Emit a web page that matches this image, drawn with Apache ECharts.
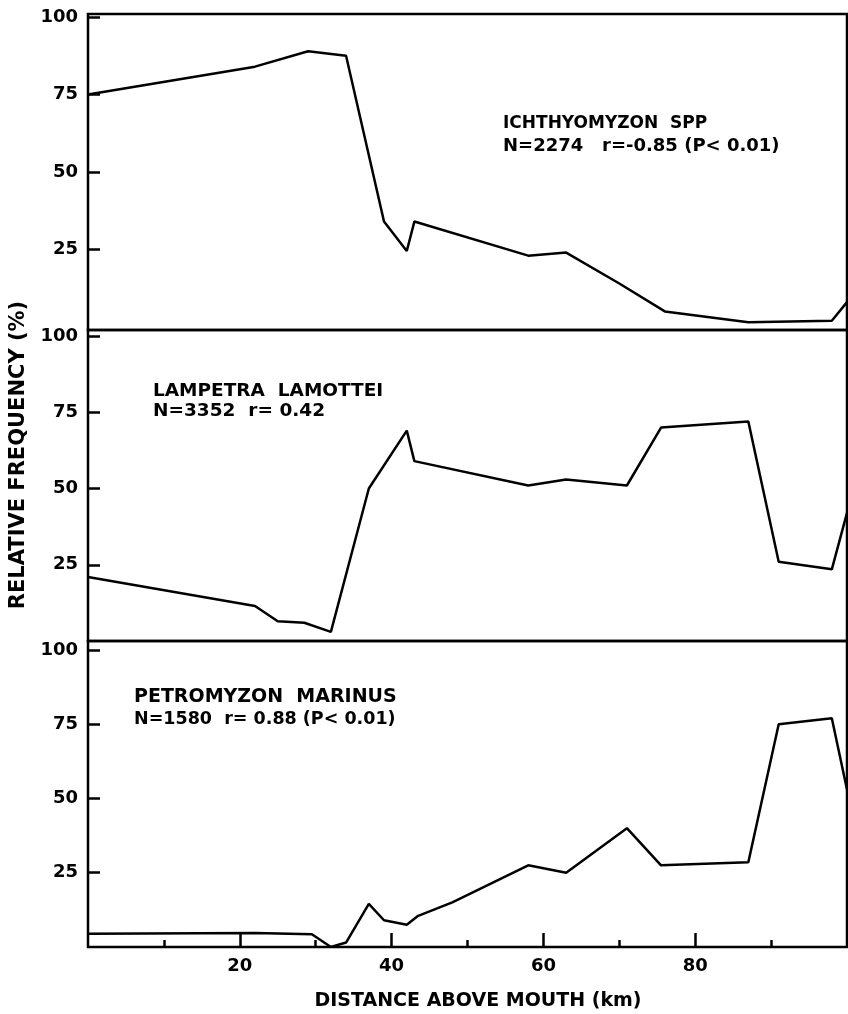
<!DOCTYPE html>
<html>
<head>
<meta charset="utf-8">
<script src="https://cdn.jsdelivr.net/npm/echarts@6/dist/echarts.min.js"></script>
<style>
html,body{margin:0;padding:0;background:#fff;}
#c{width:848px;height:1014px;}
</style>
</head>
<body>
<div id="c"></div>
<script>
// ---- data ----
var ichX = [0, 22, 29, 34, 39, 42, 43, 58, 63, 70, 76, 87, 98, 100];
var ichY = [75, 84, 89, 87.5, 34, 24.5, 34, 23, 24, 14, 5, 1.5, 2, 8];

var lamX = [0, 22, 25, 28.5, 32, 37, 42, 43, 58, 63, 71, 75.5, 87, 91, 98, 100];
var lamY = [21, 11.5, 6.5, 6, 3, 50, 69, 59, 51, 53, 51, 70, 72, 26, 23.5, 42];

var petX = [0, 22, 29.5, 32, 34, 37, 39, 42, 43.5, 48, 58, 63, 71, 75.5, 87, 91, 98, 100];
var petY = [4.5, 4.7, 4.3, 0, 1.5, 14.5, 9, 7.5, 10.5, 15, 27.5, 25, 40, 27.5, 28.5, 75, 77, 53];

var yTickValues = [25, 50, 75, 100];
var xTickValues = [20, 40, 60, 80];
var xMinorTickValues = [10, 30, 50, 70, 90];

var panelTitles = ['ICHTHYOMYZON  SPP', 'LAMPETRA  LAMOTTEI', 'PETROMYZON  MARINUS'];
var panelStats = ['N=2274   r=-0.85 (P< 0.01)', 'N=3352  r= 0.42', 'N=1580  r= 0.88 (P< 0.01)'];
var xTitle = 'DISTANCE ABOVE MOUTH (km)';
var yTitle = 'RELATIVE FREQUENCY (%)';

function pairs(xs, ys) { return xs.map(function (x, i) { return [x, ys[i]]; }); }

var FONT = 'DejaVu Sans';
var chart = echarts.init(document.getElementById('c'), null, {renderer: 'canvas'});

var grids = [
  {left: 88, top: 14, width: 759, height: 316},
  {left: 88, top: 330, width: 759, height: 311},
  {left: 88, top: 641, width: 759, height: 306}
].map(function (g) {
  g.show = true; g.borderColor = '#000'; g.borderWidth = 2.5; g.backgroundColor = 'transparent';
  return g;
});

var yRanges = [[-1, 101], [0, 102], [0, 103]];

var yAxes = yRanges.map(function (r, i) {
  return {
    type: 'value', gridIndex: i, min: r[0], max: r[1],
    axisLine: {show: false},
    splitLine: {show: false},
    axisTick: {show: true, inside: true, length: 12, customValues: yTickValues,
      lineStyle: {color: '#000', width: 2.5}},
    axisLabel: {show: true, customValues: yTickValues, margin: 10,
      color: '#000', fontFamily: FONT, fontWeight: 'bold', fontSize: 18}
  };
});

var xAxes = [0, 1, 2].map(function (i) {
  var ax = {
    type: 'value', gridIndex: i, min: 0, max: 100, position: 'bottom',
    axisLine: {show: false}, splitLine: {show: false},
    axisTick: {show: false}, axisLabel: {show: false}
  };
  if (i === 2) {
    ax.axisTick = {show: true, inside: true, length: 14, customValues: xTickValues,
      lineStyle: {color: '#000', width: 2.5}};
    ax.axisLabel = {show: true, customValues: xTickValues, margin: 10,
      color: '#000', fontFamily: FONT, fontWeight: 'bold', fontSize: 18};
  }
  return ax;
});
// minor ticks on the bottom axis
xAxes.push({
  type: 'value', gridIndex: 2, min: 0, max: 100, position: 'bottom',
  axisLine: {show: false}, splitLine: {show: false}, axisLabel: {show: false},
  axisTick: {show: true, inside: true, length: 7, customValues: xMinorTickValues,
    lineStyle: {color: '#000', width: 2.5}}
});

var seriesData = [pairs(ichX, ichY), pairs(lamX, lamY), pairs(petX, petY)];
var series = seriesData.map(function (d, i) {
  return {
    type: 'line', xAxisIndex: i, yAxisIndex: i, data: d,
    showSymbol: false, symbol: 'none', clip: true,
    lineStyle: {color: '#000', width: 2.5}
  };
});

var titlePos = [
  {x: 503, y: 124, t: 17, s: 18, gap: 22},
  {x: 153, y: 391, t: 18.5, s: 18.5, gap: 20},
  {x: 134, y: 697, t: 19, s: 17.5, gap: 22}
];
var graphics = [];
titlePos.forEach(function (p, i) {
  graphics.push({type: 'text', x: p.x, y: p.y, style: {text: panelTitles[i], fill: '#000',
    fontFamily: FONT, fontWeight: 'bold', fontSize: p.t, textVerticalAlign: 'middle', verticalAlign: 'middle'}});
  graphics.push({type: 'text', x: p.x, y: p.y + p.gap, style: {text: panelStats[i], fill: '#000',
    fontFamily: FONT, fontWeight: 'bold', fontSize: p.s, textVerticalAlign: 'middle', verticalAlign: 'middle'}});
});
graphics.push({type: 'text', x: 478, y: 1001, style: {text: xTitle, fill: '#000',
  fontFamily: FONT, fontWeight: 'bold', fontSize: 19, textAlign: 'center', align: 'center',
  textVerticalAlign: 'middle', verticalAlign: 'middle'}});
graphics.push({type: 'text', x: 19, y: 455, rotation: Math.PI / 2, style: {text: yTitle, fill: '#000',
  fontFamily: FONT, fontWeight: 'bold', fontSize: 21, textAlign: 'center', align: 'center',
  textVerticalAlign: 'middle', verticalAlign: 'middle'}});

chart.setOption({
  animation: false,
  backgroundColor: '#fff',
  grid: grids,
  xAxis: xAxes,
  yAxis: yAxes,
  series: series,
  graphic: graphics
});
</script>
</body>
</html>
